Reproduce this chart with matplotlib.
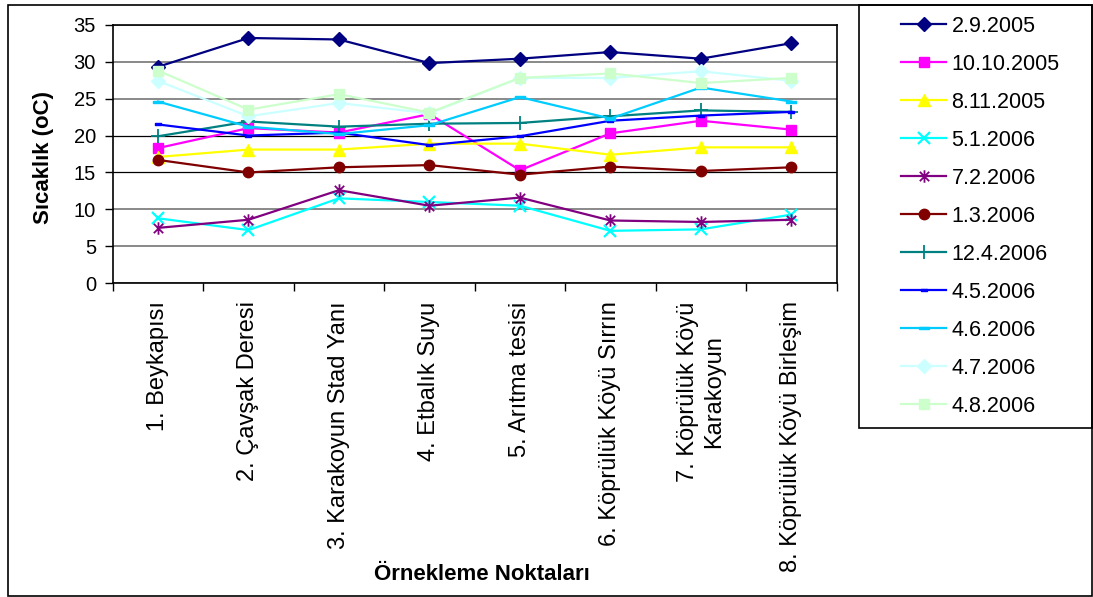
import matplotlib
matplotlib.use("Agg")
import matplotlib.pyplot as plt
from matplotlib.patches import Rectangle
from matplotlib.path import Path
from matplotlib.ticker import FixedLocator

# Sampling stations (x categories)
stations = [
    "1. Beykapısı",
    "2. Çavşak Deresi",
    "3. Karakoyun Stad Yanı",
    "4. Etbalık Suyu",
    "5. Arıtma tesisi",
    "6. Köprülük Köyü Sırrın",
    "7. Köprülük Köyü\nKarakoyun",
    "8. Köprülük Köyü Birleşim",
]

# Sampling dates (series labels)
dates = ["2.9.2005", "10.10.2005", "8.11.2005", "5.1.2006", "7.2.2006", "1.3.2006",
         "12.4.2006", "4.5.2006", "4.6.2006", "4.7.2006", "4.8.2006"]

# Water temperature (°C) per station for each date
t_2_9_2005 = [29.3, 33.2, 33.0, 29.8, 30.4, 31.3, 30.4, 32.5]
t_10_10_2005 = [18.3, 21.0, 20.4, 22.9, 15.3, 20.3, 22.0, 20.8]
t_8_11_2005 = [17.1, 18.1, 18.1, 18.9, 18.9, 17.4, 18.4, 18.4]
t_5_1_2006 = [8.8, 7.2, 11.5, 11.0, 10.5, 7.1, 7.3, 9.3]
t_7_2_2006 = [7.5, 8.6, 12.6, 10.5, 11.6, 8.5, 8.3, 8.6]
t_1_3_2006 = [16.7, 15.0, 15.7, 16.0, 14.7, 15.8, 15.2, 15.7]
t_12_4_2006 = [19.9, 21.9, 21.2, 21.6, 21.7, 22.6, 23.4, 23.2]
t_4_5_2006 = [21.5, 20.0, 20.4, 18.7, 19.9, 22.0, 22.7, 23.2]
t_4_6_2006 = [24.6, 21.2, 20.2, 21.4, 25.2, 22.3, 26.5, 24.6]
t_4_7_2006 = [27.4, 22.6, 24.4, 23.0, 27.8, 27.8, 28.7, 27.4]
t_4_8_2006 = [28.8, 23.5, 25.6, 23.1, 27.8, 28.4, 27.1, 27.8]

series = [t_2_9_2005, t_10_10_2005, t_8_11_2005, t_5_1_2006, t_7_2_2006, t_1_3_2006,
          t_12_4_2006, t_4_5_2006, t_4_6_2006, t_4_7_2006, t_4_8_2006]

y_ticks = [0, 5, 10, 15, 20, 25, 30, 35]

plt.rcParams["font.family"] = ["Liberation Sans", "DejaVu Sans"]

# Custom marker shapes
short_dash = Path([(-1, -0.28), (1, -0.28), (1, 0.28), (-1, 0.28), (-1, -0.28)],
                  [Path.MOVETO, Path.LINETO, Path.LINETO, Path.LINETO, Path.CLOSEPOLY])
long_dash = Path([(-1, -0.16), (1, -0.16), (1, 0.16), (-1, 0.16), (-1, -0.16)],
                 [Path.MOVETO, Path.LINETO, Path.LINETO, Path.LINETO, Path.CLOSEPOLY])
star = Path([(0, -1), (0, 1), (-0.75, -0.75), (0.75, 0.75), (-0.75, 0.75), (0.75, -0.75)],
            [Path.MOVETO, Path.LINETO, Path.MOVETO, Path.LINETO, Path.MOVETO, Path.LINETO])

styles = [
    dict(color="#000080", marker="D", ms=7),
    dict(color="#FF00FF", marker="s", ms=7),
    dict(color="#FFFF00", marker="^", ms=8.5),
    dict(color="#00FFFF", marker="x", ms=8, mew=1.6),
    dict(color="#800080", marker=star, ms=9, mew=1.3),
    dict(color="#800000", marker="o", ms=7.5),
    dict(color="#008080", marker="+", ms=10, mew=1.3),
    dict(color="#0000FF", marker=short_dash, ms=4.6),
    dict(color="#00CCFF", marker=long_dash, ms=7.8),
    dict(color="#CCFFFF", marker="D", ms=7),
    dict(color="#CCFFCC", marker="s", ms=7),
]

W, H = 1093, 597
fig = plt.figure(figsize=(W / 100, H / 100), dpi=100)


def fx(px):
    return px / W


def fy(py):
    return 1 - py / H


ax = fig.add_axes([fx(112.7), fy(283.3), fx(836.7) - fx(112.7), fy(24.7) - fy(283.3)])

x = list(range(len(stations)))
handles = []
for i, (vals, lab, st) in enumerate(zip(series, dates, styles)):
    (ln,) = ax.plot(x, vals, color=st["color"], lw=1.6, marker=st["marker"],
                    ms=st["ms"], mew=st.get("mew", 1.0), mfc=st["color"],
                    mec=st["color"], label=lab, zorder=3 + i, clip_on=False)
    handles.append(ln)

ax.set_xlim(-0.5, len(stations) - 0.5)
ax.set_ylim(0, 35)
ax.set_yticks(y_ticks)
ax.tick_params(axis="y", labelsize=14.5, length=6, width=1, pad=6, color="black")

ax.xaxis.set_major_locator(FixedLocator(x))
ax.set_xticklabels(stations, rotation=90, fontsize=17, va="top", ha="center",
                   multialignment="center")
ax.xaxis.set_minor_locator(FixedLocator([k + 0.5 for k in range(-1, len(stations))]))
ax.tick_params(axis="x", which="major", length=0, pad=13)
ax.tick_params(axis="x", which="minor", length=6, width=1, color="black")

ax.grid(axis="y", color="#808080", lw=1.3, zorder=1)
for val, gl in zip(ax.get_yticks(), ax.get_ygridlines()):
    if val in (15, 20):
        gl.set_color("black")
        gl.set_linewidth(0.9)
for sp in ax.spines.values():
    sp.set_color("black")
    sp.set_linewidth(1.2)
ax.set_axisbelow(True)

# Axis titles
fig.text(fx(43), fy(158), "Sıcaklık (oC)", rotation=90, fontsize=16, fontweight="bold",
         ha="center", va="center")
narrow = ["Liberation Sans Narrow", "Liberation Sans", "DejaVu Sans"]
fig.text(fx(482), fy(575), "Örnekleme Noktaları", fontsize=16, fontweight="bold",
         family=narrow, ha="center", va="center")

# Legend box
fig.add_artist(Rectangle((fx(858.7), fy(428.3)), fx(1092) - fx(858.7), fy(4.7) - fy(428.3),
                         transform=fig.transFigure, fill=False, edgecolor="black", lw=1.2))
fig.legend(handles=handles, labels=dates, loc="upper left",
           bbox_to_anchor=(fx(901), fy(15.5)), frameon=False, fontsize=15.5,
           handlelength=2.1, handletextpad=0.25, labelspacing=0.79, borderpad=0,
           borderaxespad=0, numpoints=1)

# Outer chart border
fig.add_artist(Rectangle((fx(8), fy(596)), fx(1092) - fx(8), fy(4.7) - fy(596),
                         transform=fig.transFigure, fill=False, edgecolor="black", lw=1.2))

fig.savefig("out.png", dpi=100)
